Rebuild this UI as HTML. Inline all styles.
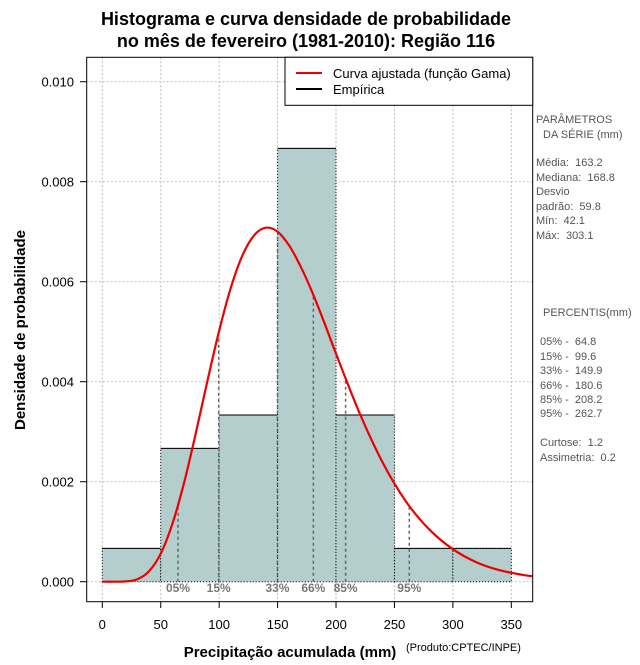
<!DOCTYPE html>
<html><head><meta charset="utf-8"><style>
body{margin:0;background:#fff;width:640px;height:660px;overflow:hidden;font-family:"Liberation Sans",sans-serif}
svg text{font-family:"Liberation Sans",sans-serif}
</style></head><body>
<svg id="c" width="640" height="660">
<text x="306" y="25" text-anchor="middle" font-size="18" font-weight="bold">Histograma e curva densidade de probabilidade</text>
<text x="306" y="47" text-anchor="middle" font-size="18" font-weight="bold">no mês de fevereiro (1981-2010): Região 116</text>
<g id="grid"></g>
<g id="bars"></g>
<g id="pct"></g>
<g id="curve"></g>
<rect x="86.7" y="57.3" width="446" height="544.4" fill="none" stroke="#000"/>
<g id="axes"></g>
<g>
<rect x="285" y="57.3" width="247.7" height="48" fill="#fff" stroke="#000"/>
<line x1="296" y1="73" x2="322" y2="73" stroke="#e00" stroke-width="2"/>
<text x="333" y="78" font-size="13">Curva ajustada (função Gama)</text>
<line x1="296" y1="89" x2="322" y2="89" stroke="#000" stroke-width="2"/>
<text x="333" y="94" font-size="13">Empírica</text>
</g>
<text transform="translate(25,330) rotate(-90)" text-anchor="middle" font-size="15" font-weight="bold">Densidade de probabilidade</text>
<text x="290" y="657" text-anchor="middle" font-size="15" font-weight="bold">Precipitação acumulada (mm)</text>
<text x="406" y="651" font-size="11">(Produto:CPTEC/INPE)</text>
<g font-size="11" fill="#555">
<text x="536" y="123">PARÂMETROS</text>
<text x="540" y="138" xml:space="preserve"> DA SÉRIE (mm)</text>
<text x="536" y="166" xml:space="preserve">Média:  163.2</text>
<text x="536" y="181" xml:space="preserve">Mediana:  168.8</text>
<text x="536" y="195">Desvio</text>
<text x="536" y="210" xml:space="preserve">padrão:  59.8</text>
<text x="536" y="224" xml:space="preserve">Mín:  42.1</text>
<text x="536" y="239" xml:space="preserve">Máx:  303.1</text>
<text x="543" y="316">PERCENTIS(mm)</text>
<text x="540" y="345" xml:space="preserve">05% -  64.8</text>
<text x="540" y="360" xml:space="preserve">15% -  99.6</text>
<text x="540" y="374" xml:space="preserve">33% -  149.9</text>
<text x="540" y="389" xml:space="preserve">66% -  180.6</text>
<text x="540" y="403" xml:space="preserve">85% -  208.2</text>
<text x="540" y="417" xml:space="preserve">95% -  262.7</text>
<text x="540" y="446" xml:space="preserve">Curtose:  1.2</text>
<text x="540" y="461" xml:space="preserve">Assimetria:  0.2</text>
</g>
</svg>
<script>
const binEdges=[0,50,100,150,200,250,300,350];
const binCounts=[1,4,5,13,5,1,1];
const curveX=[0,10,20,30,40,50,60,70,80,90,100,110,120,130,140,150,160,170,180,190,200,220,240,260,280,300,320,340,360,368];
const curveY=[0,0.0000001,0.000006,0.00005,0.00021,0.00056,0.00116,0.00198,0.00297,0.00402,0.00502,0.00588,0.00653,0.00693,0.00708,0.00700,0.00672,0.00629,0.00577,0.00518,0.00456,0.00338,0.00238,0.00160,0.00104,0.00065,0.00039,0.00023,0.000136,0.00011];
const pctLabels=["05%","15%","33%","66%","85%","95%"];
const pctValues=[64.8,99.6,149.9,180.6,208.2,262.7];
const xTicks=[0,50,100,150,200,250,300,350];
const yTicks=[0,0.002,0.004,0.006,0.008,0.010];
const NS='http://www.w3.org/2000/svg';
const sx=v=>102.3+v*1.1686, sy=v=>581.7-v*50000;
function mk(p,t,a){const e=document.createElementNS(NS,t);for(const k in a)e.setAttribute(k,a[k]);document.getElementById(p).appendChild(e);return e;}
const total=binCounts.reduce((a,b)=>a+b,0);
function dens(x){let y=0;for(let i=0;i<curveX.length-1;i++)if(x>=curveX[i]&&x<=curveX[i+1]){const t=(x-curveX[i])/(curveX[i+1]-curveX[i]);y=curveY[i]+t*(curveY[i+1]-curveY[i]);}return y;}
xTicks.forEach(t=>{const l=mk('grid','line',{x1:sx(t),x2:sx(t),y1:57.3,y2:601.7,stroke:'#bbb','stroke-dasharray':'2,2'});

const k=mk('axes','line',{x1:sx(t),x2:sx(t),y1:601.7,y2:608,stroke:'#000'});
const tx=mk('axes','text',{x:sx(t),y:629,'text-anchor':'middle','font-size':'13'});tx.textContent=t;});
yTicks.forEach(t=>{const l=mk('grid','line',{x1:86.7,x2:532.7,y1:sy(t),y2:sy(t),stroke:'#bbb','stroke-dasharray':'2,2'});

const k=mk('axes','line',{x1:80,x2:86.7,y1:sy(t),y2:sy(t),stroke:'#000'});
const tx=mk('axes','text',{x:74,y:sy(t)+5,'text-anchor':'end','font-size':'13'});tx.textContent=t.toFixed(3);});
binCounts.forEach((c,i)=>{const w=binEdges[i+1]-binEdges[i],d=c/total/w;const x0=sx(binEdges[i]),x1=sx(binEdges[i+1]),y=sy(d),y0=sy(0);
const r=mk('bars','rect',{x:x0,y:y,width:x1-x0,height:y0-y,fill:'#b4cdcd',stroke:'#000','stroke-dasharray':'1,2'});

const t=mk('bars','line',{x1:x0,x2:x1,y1:y,y2:y,stroke:'#000'});});
pctValues.forEach((v,i)=>{const l=mk('pct','line',{x1:sx(v),x2:sx(v),y1:sy(0),y2:sy(dens(v)),stroke:'#666','stroke-width':'1.5','stroke-dasharray':'3,3'});

const t=mk('pct','text',{x:sx(v),y:592,'text-anchor':'middle','font-size':'12','font-weight':'bold',fill:'#777'});t.textContent=pctLabels[i];
});
const P=curveX.map((x,i)=>[sx(x),sy(curveY[i])]);
let d='M'+P[0][0]+','+P[0][1];
for(let i=0;i<P.length-1;i++){const p0=P[Math.max(0,i-1)],p1=P[i],p2=P[i+1],p3=P[Math.min(P.length-1,i+2)];
d+=' C'+(p1[0]+(p2[0]-p0[0])/6)+','+(p1[1]+(p2[1]-p0[1])/6)+' '+(p2[0]-(p3[0]-p1[0])/6)+','+(p2[1]-(p3[1]-p1[1])/6)+' '+p2[0]+','+p2[1];}
const cp=mk('curve','path',{d:d,fill:'none',stroke:'#e00','stroke-width':'2.2'});


</script>
</body></html>
